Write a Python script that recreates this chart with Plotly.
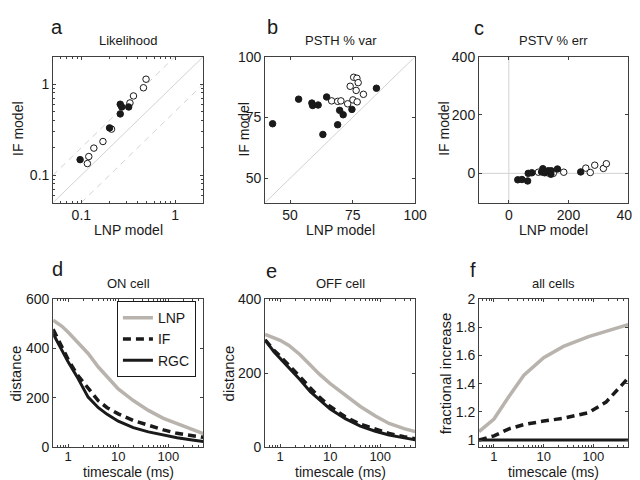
import math
import plotly.graph_objects as go

# ---------------- data ----------------
# Panel a: Likelihood (log-log)
a_lnp_filled = [0.097, 0.20, 0.26, 0.26, 0.27, 0.32]
a_if_filled = [0.148, 0.33, 0.47, 0.60, 0.56, 0.56]
a_lnp_open = [0.116, 0.12, 0.136, 0.17, 0.21, 0.33, 0.36, 0.46, 0.49]
a_if_open = [0.134, 0.16, 0.198, 0.234, 0.32, 0.62, 0.74, 0.91, 1.13]

# Panel b: PSTH % var
b_lnp_filled = [43.0, 53.4, 58.7, 59.0, 61.2, 64.6, 63.1, 69.0, 69.8, 71.2, 74.7, 84.5]
b_if_filled = [72.4, 82.5, 80.9, 79.9, 80.1, 83.4, 68.0, 72.0, 77.9, 76.1, 78.3, 87.0]
b_lnp_open = [66.6, 69.0, 70.3, 73.0, 75.1, 76.8, 74.0, 76.4, 79.3, 75.4, 76.7, 77.2]
b_if_open = [81.8, 81.6, 81.8, 80.6, 82.2, 81.4, 87.8, 86.1, 84.5, 91.5, 91.1, 89.3]

# Panel c: PSTV % err
c_lnp_filled = [30, 44, 63, 65, 77, 110, 114, 120, 132, 141, 142, 163, 241]
c_if_filled = [-22, -21, -26, 0, 2, 5, 16, 2, 9, -3, 9, 15, 5]
c_lnp_open = [99, 130, 149, 184, 258, 273, 288, 317, 327]
c_if_open = [4, 2, 0, 4, 18, 3, 28, 17, 33]

# Panels d-f: distance vs timescale
timescale = [0.5, 0.75, 1, 1.5, 2.5, 4, 6, 10, 20, 40, 80, 150, 300, 500]
d_lnp = [515, 490, 466, 430, 380, 325, 285, 236, 189, 149, 117, 95, 71, 55]
d_if = [478, 410, 355, 295, 240, 188, 160, 135, 108, 88, 70, 56, 47, 40]
d_rgc = [460, 392, 345, 286, 203, 160, 133, 105, 79, 62, 48, 38, 29, 23]

e_lnp = [305, 296, 289, 275, 250, 222, 198, 172, 140, 110, 84, 64, 50, 42]
e_if = [290, 262, 246, 222, 190, 160, 136, 110, 82, 62, 48, 37, 28, 23]
e_rgc = [290, 258, 240, 215, 182, 150, 128, 103, 77, 57, 43, 33, 25, 20]

f_time = [0.5, 1, 2, 4, 10, 25, 80, 180, 500]
f_lnp = [1.06, 1.15, 1.31, 1.46, 1.585, 1.665, 1.735, 1.77, 1.82]
f_if = [1.0, 1.03, 1.08, 1.11, 1.135, 1.155, 1.195, 1.27, 1.44]
f_rgc = [1.0, 1.0, 1.0, 1.0, 1.0, 1.0, 1.0, 1.0, 1.0]

# axis ranges
a_range = [0.05, 2]
b_range = [40, 100]
c_xrange = [-100, 400]
c_yrange = [-100, 400]
t_range = [0.5, 500]

# ---------------- style ----------------
W, H = 640, 480
FONT = "Liberation Sans, Arial, sans-serif"
BLACK = "#1a1a1a"
GRAY = "#b8b3ad"
REF = "#d2d2d2"
FRAME = "#404040"

cols = [(46, 199), (262, 415), (480, 632)]
rows = [(42, 193), (293, 446)]


def xd(c):
    return [c[0] / W, c[1] / W]


def yd(r):
    return [1 - r[1] / H, 1 - r[0] / H]


fig = go.Figure()


def scat(x, y, xa, ya, filled):
    fig.add_trace(go.Scatter(
        x=x, y=y, xaxis=xa, yaxis=ya, mode="markers", showlegend=False,
        marker=dict(size=6.5, symbol="circle",
                    color=BLACK if filled else "white",
                    line=dict(color=BLACK, width=1))))


def refline(x, y, xa, ya, dash="solid"):
    fig.add_trace(go.Scatter(x=x, y=y, xaxis=xa, yaxis=ya, mode="lines",
                             showlegend=False, hoverinfo="skip",
                             line=dict(color=REF, width=1, dash=dash)))


# Panel a
refline(a_range, a_range, "x", "y")
refline([a_range[0], a_range[1] / 2], [2 * a_range[0], a_range[1]], "x", "y", "6px,5px")
refline([2 * a_range[0], a_range[1]], [a_range[0], a_range[1] / 2], "x", "y", "6px,5px")
scat(a_lnp_open, a_if_open, "x", "y", False)
scat(a_lnp_filled, a_if_filled, "x", "y", True)

# Panel b
refline(b_range, b_range, "x2", "y2")
scat(b_lnp_open, b_if_open, "x2", "y2", False)
scat(b_lnp_filled, b_if_filled, "x2", "y2", True)

# Panel c
refline(c_xrange, [0, 0], "x3", "y3")
refline([0, 0], c_yrange, "x3", "y3")
scat(c_lnp_open, c_if_open, "x3", "y3", False)
scat(c_lnp_filled, c_if_filled, "x3", "y3", True)

DASH = "8px,5px"


def curves(t, lnp, iff, rgc, xa, ya, legend):
    fig.add_trace(go.Scatter(x=t, y=lnp, xaxis=xa, yaxis=ya, mode="lines", name="LNP",
                             showlegend=legend, line=dict(color=GRAY, width=3.5)))
    fig.add_trace(go.Scatter(x=t, y=iff, xaxis=xa, yaxis=ya, mode="lines", name="IF",
                             showlegend=legend, line=dict(color=BLACK, width=3.5, dash=DASH)))
    fig.add_trace(go.Scatter(x=t, y=rgc, xaxis=xa, yaxis=ya, mode="lines", name="RGC",
                             showlegend=legend, line=dict(color=BLACK, width=3)))


curves(timescale, d_lnp, d_if, d_rgc, "x4", "y4", True)
curves(timescale, e_lnp, e_if, e_rgc, "x5", "y5", False)
curves(f_time, f_lnp, f_if, f_rgc, "x6", "y6", False)

# ---------------- axes ----------------


def log_minor(lo, hi):
    vals = []
    e0, e1 = math.floor(math.log10(lo)), math.ceil(math.log10(hi))
    for e in range(e0, e1 + 1):
        for m in range(2, 10):
            v = m * 10 ** e
            if lo <= v <= hi:
                vals.append(v)
    return vals


base = dict(showline=True, linecolor=FRAME, linewidth=1, mirror="ticks",
            ticks="inside", ticklen=3, tickcolor=FRAME, tickwidth=1,
            showgrid=False, zeroline=False, fixedrange=True,
            tickfont=dict(family=FONT, size=14, color=BLACK))


def lin_axis(dom, rng, tv, anchor, **kw):
    d = dict(base, domain=dom, range=rng, tickvals=tv, anchor=anchor)
    d.update(kw)
    return d


def log_axis(dom, rng, tv, tt, anchor, **kw):
    d = dict(base, domain=dom, type="log",
             range=[math.log10(rng[0]), math.log10(rng[1])],
             tickvals=tv, ticktext=tt, anchor=anchor,
             minor=dict(ticks="inside", ticklen=2, tickcolor=FRAME,
                        tickvals=log_minor(rng[0], rng[1]), showgrid=False))
    d.update(kw)
    return d


small = dict(family=FONT, size=13, color=BLACK)

fig.update_layout(
    xaxis=log_axis(xd(cols[0]), a_range, [0.1, 1], ["0.1", "1"], "y"),
    yaxis=log_axis(yd(rows[0]), a_range, [0.1, 1], ["0.1", "1"], "x"),
    xaxis2=lin_axis(xd(cols[1]), b_range, [50, 75, 100], "y2"),
    yaxis2=lin_axis(yd(rows[0]), b_range, [50, 75, 100], "x2"),
    xaxis3=lin_axis(xd(cols[2]), c_xrange, [0, 200, 400], "y3"),
    yaxis3=lin_axis(yd(rows[0]), c_yrange, [0, 200, 400], "x3"),
    xaxis4=log_axis(xd(cols[0]), t_range, [1, 10, 100], ["1", "10", "100"], "y4",
                    ticklabelstandoff=-3, tickfont=small),
    yaxis4=lin_axis(yd(rows[1]), [0, 600], [0, 200, 400, 600], "x4"),
    xaxis5=log_axis(xd(cols[1]), t_range, [1, 10, 100], ["1", "10", "100"], "y5",
                    ticklabelstandoff=-3, tickfont=small),
    yaxis5=lin_axis(yd(rows[1]), [0, 400], [0, 200, 400], "x5"),
    xaxis6=log_axis(xd(cols[2]), t_range, [1, 10, 100], ["1", "10", "100"], "y6",
                    ticklabelstandoff=-3, tickfont=small),
    yaxis6=lin_axis(yd(rows[1]), [0.95, 2], [1, 1.2, 1.4, 1.6, 1.8, 2], "x6",
                    ticktext=["1", "1.2", "1.4", "1.6", "1.8", "2"]),
)

# ---------------- text ----------------
anns = []


def txt(s, x, y, size, angle=0):
    anns.append(dict(text=s, x=x / W, y=1 - y / H, xref="paper", yref="paper",
                     showarrow=False, xanchor="center", yanchor="middle",
                     textangle=angle, font=dict(family=FONT, size=size, color=BLACK)))


# panel letters
for s, x, y in [("a", 50, 11), ("b", 270, 11), ("c", 480, 12),
                ("d", 50, 262), ("e", 269, 264), ("f", 474, 263)]:
    txt(s, x, y, 20)
# titles
for s, x, y in [("Likelihood", 123, 25), ("PSTH % var", 339, 25), ("PSTV % err", 556, 25),
                ("ON cell", 123, 277), ("OFF cell", 339, 277), ("all cells", 556, 277)]:
    txt(s, x, y, 13)
# axis labels
for x in [123, 339, 556]:
    txt("LNP model", x, 221, 14)
for x in [10, 241, 444]:
    txt("IF model", x, 117, 14, -90)
for x in [123, 339, 556]:
    txt("timescale (ms)", x, 472, 14)
txt("distance", 8, 370, 15, -90)
txt("distance", 225, 370, 15, -90)
txt("fractional increase", 446, 370, 15, -90)

fig.update_layout(
    width=W, height=H, margin=dict(l=0, r=0, t=0, b=0),
    paper_bgcolor="white", plot_bgcolor="white",
    annotations=anns,
    legend=dict(x=111 / W, y=1 - 295 / H, xanchor="left", yanchor="top",
                bgcolor="white", bordercolor=BLACK, borderwidth=1,
                font=dict(family=FONT, size=14, color=BLACK),
                tracegroupgap=0, itemwidth=30),
    font=dict(family=FONT),
)

fig.write_html("out.html")
